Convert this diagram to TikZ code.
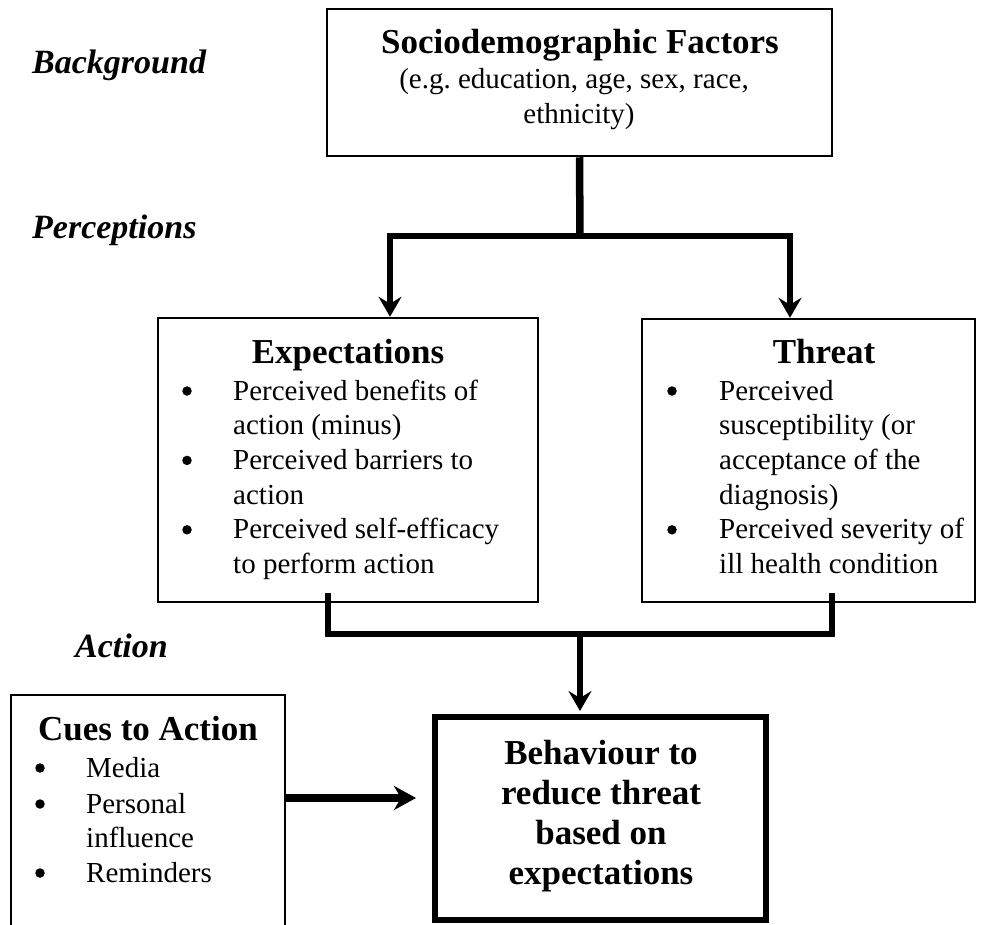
\documentclass[tikz,border=0pt]{standalone}
\usepackage{fontspec}
\setmainfont{Liberation Serif}
\usetikzlibrary{arrows.meta}
\frenchspacing
\begin{document}
\begin{tikzpicture}[x=1pt,y=-1pt,
  box/.style={draw, line width=2.5pt, inner sep=0pt},
  bigbox/.style={draw, line width=6pt, inner sep=0pt},
  conn/.style={line width=6.5pt, line join=miter},
  arr/.style={line width=6.5pt, line join=miter, -{Stealth[length=20pt,width=23pt,inset=7pt]}},
  lbl/.style={font=\fontsize{34}{40}\selectfont\bfseries\itshape, anchor=base west, inner sep=0pt},
  head/.style={font=\fontsize{35}{40}\selectfont\bfseries, anchor=base, inner sep=0pt},
  body/.style={font=\fontsize{29}{35}\selectfont\frenchspacing, anchor=base west, inner sep=0pt},
  bodyc/.style={font=\fontsize{29}{35}\selectfont\frenchspacing, anchor=base, inner sep=0pt},
  bul/.style={circle, fill, inner sep=0pt, minimum size=9.5pt},
]
\useasboundingbox (0,0) rectangle (988,924);
\clip (0,0) rectangle (988,924);

% side labels
\node[lbl] (lbg) at (32,73) {Background};
\node[lbl] (lpe) at (32,238) {Perceptions};
\node[lbl] (lac) at (75,657) {Action};

% boxes
\node[box, minimum width=505pt, minimum height=147pt] (socio) at (579.5,82.5) {};
\node[box, minimum width=380pt, minimum height=284pt] (expect) at (348,460) {};
\node[box, minimum width=333pt, minimum height=283pt] (threat) at (808.5,460.5) {};
\node[box, minimum width=274pt, minimum height=265pt] (cues) at (148,827.5) {};
\node[bigbox, minimum width=331pt, minimum height=203pt] (behav) at (600.5,818.5) {};

% top box text
\node[head] (st) at (580,53) {Sociodemographic Factors};
\node[bodyc] (s1) at (574,88) {(e.g. education, age, sex, race,};
\node[bodyc] (s2) at (579,123) {ethnicity)};

% expectations
\node[head] (eh) at (348,363) {Expectations};
\node[bul] (eb1) at (187,391) {};
\node[body] (e1) at (233,400) {Perceived benefits of};
\node[body] (e2) at (233,434.7) {action (minus)};
\node[bul] (eb2) at (187,460.4) {};
\node[body] (e3) at (233,469.4) {Perceived barriers to};
\node[body] (e4) at (233,504.1) {action};
\node[bul] (eb3) at (187,529.8) {};
\node[body] (e5) at (233,538.8) {Perceived self-efficacy};
\node[body] (e6) at (233,573.5) {to perform action};

% threat
\node[head] (th) at (824,363) {Threat};
\node[bul] (tb1) at (672,391) {};
\node[body] (t1) at (719,400) {Perceived};
\node[body] (t2) at (719,434.7) {susceptibility (or};
\node[body] (t3) at (719,469.4) {acceptance of the};
\node[body] (t4) at (719,504.1) {diagnosis)};
\node[bul] (tb2) at (672,529.8) {};
\node[body] (t5) at (719,538.8) {Perceived severity of};
\node[body] (t6) at (719,573.5) {ill health condition};

% cues
\node[head] (ch) at (148,740) {Cues to Action};
\node[bul] (cb1) at (40,768) {};
\node[body] (c1) at (86,777) {Media};
\node[bul] (cb2) at (40,804) {};
\node[body] (c2) at (86,813) {Personal};
\node[body] (c3) at (86,847) {influence};
\node[bul] (cb3) at (40,873) {};
\node[body] (c4) at (86,882) {Reminders};

% behaviour
\node[head] (b1) at (601,764) {Behaviour to};
\node[head] (b2) at (601,804) {reduce threat};
\node[head] (b3) at (601,844) {based on};
\node[head] (b4) at (601,884) {expectations};

% connectors top
\coordinate (jm) at (580,236);
\coordinate (jl) at (390,236);
\coordinate (jr) at (790,236);
\draw[line width=7.5pt] (socio.south) -- (jm);
\draw[arr] (jm) -- (jl) -- (jl |- expect.north);
\draw[arr] (jm) -- (jr) -- (jr |- threat.north);

% connectors bottom
\coordinate (el) at (328,593);
\coordinate (er) at (832,593);
\coordinate (bl) at (328,634);
\coordinate (br) at (832,634);
\coordinate (bm) at (580,634);
\draw[conn] (el) -- (bl) -- (br) -- (er);
\draw[arr, shorten >=3pt] (bm) -- (bm |- behav.north);

% cues arrow
\coordinate (ca) at (285,798);
\coordinate (cb) at (416,798);
\draw[line width=8pt, -{Stealth[length=22pt,width=24pt,inset=7pt]}] (ca) -- (cb);
\end{tikzpicture}
\end{document}
